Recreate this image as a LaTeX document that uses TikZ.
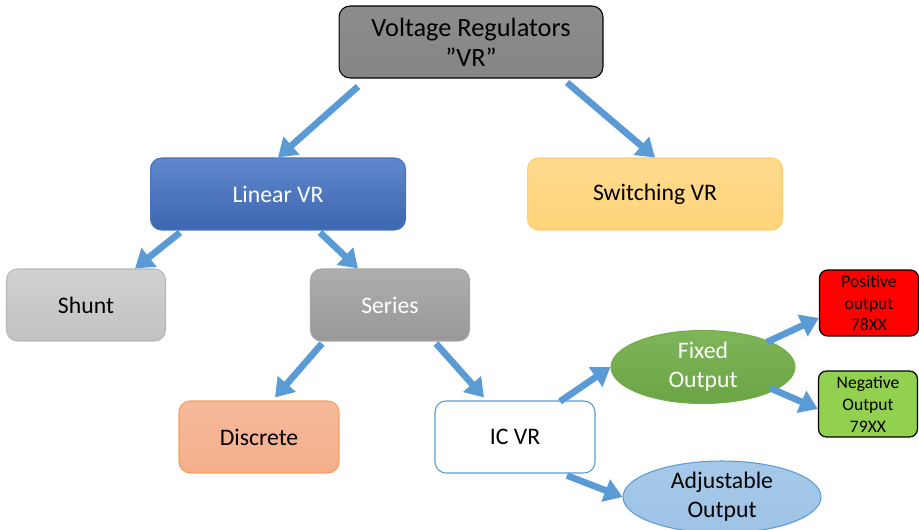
\documentclass[tikz,border=0pt]{standalone}
\usepackage{fontspec}
\setmainfont{Carlito}
\usepackage{tikz}
\usetikzlibrary{arrows.meta, shapes.geometric, calc}
\definecolor{flowcol}{HTML}{5B9BD5}
\definecolor{rootcol}{HTML}{7F7F7F}
\definecolor{linearcol}{HTML}{4472C4}
\definecolor{switchcol}{HTML}{FFD47A}
\definecolor{shuntcol}{HTML}{CCCCCC}
\definecolor{seriescol}{HTML}{A5A5A5}
\definecolor{discretecol}{HTML}{F4AE8A}
\definecolor{fixedcol}{HTML}{70AD47}
\definecolor{adjustcol}{HTML}{9DC3E6}
\definecolor{negcol}{HTML}{92D050}

\begin{document}
\begin{tikzpicture}[x=0.02cm, y=-0.02cm,
  box/.style={
    draw, rounded corners=0.22cm, minimum width=3.2cm, minimum height=1.44cm,
    inner sep=0pt, align=center, line width=0.6pt,
    font=\fontsize{13.5}{16.5}\selectfont
  },
  oval/.style={
    ellipse, draw, inner sep=0pt, align=center, line width=0.6pt,
    font=\fontsize{13.5}{16.5}\selectfont
  },
  tag/.style={
    box, rounded corners=0.16cm, minimum width=1.98cm, minimum height=1.32cm,
    draw=black, line width=0.7pt, font=\fontsize{10}{12.5}\selectfont
  },
  flow/.style={-{Triangle[length=0.36cm, width=0.46cm]}, line width=3.8pt, flowcol}
]
\useasboundingbox (0,0) rectangle (919,530);

% ============ LEVEL 1 ============
\node[box, top color=rootcol!90, bottom color=rootcol!105!black, draw=black,
  minimum width=5.28cm, font=\fontsize{15}{17.2}\selectfont] (vr) at (471,42)
  {Voltage Regulators\\”VR”};

% ============ LEVEL 2 ============
\node[box, top color=linearcol!85, bottom color=linearcol!90!black, draw=linearcol,
  text=white, minimum width=5.1cm] (lin) at (278,194) {Linear VR};
\node[box, top color=switchcol!85, bottom color=switchcol, draw=switchcol!90!orange,
  minimum width=5.1cm] (sw) at (655,194) {Switching VR};

% ============ LEVEL 3 ============
\node[box, top color=shuntcol!90, bottom color=shuntcol!95!black, draw=seriescol!80,
  minimum width=3.18cm] (shunt) at (86,305) {Shunt};
\node[box, top color=seriescol!90, bottom color=seriescol!92!black, draw=seriescol,
  text=white, minimum width=3.18cm] (ser) at (390,305) {Series};

% ============ LEVEL 4 ============
\node[box, top color=discretecol!85, bottom color=discretecol, draw=discretecol!70!orange]
  (disc) at (259,437) {Discrete};
\node[box, fill=white, draw=flowcol] (ic) at (515,437) {IC VR};

% IC branches
\node[oval, top color=fixedcol!90, bottom color=fixedcol!95!black, draw=fixedcol,
  text=white, minimum width=3.68cm, minimum height=1.46cm] (fix) at (703,367)
  {Fixed\\Output};
\node[oval, top color=adjustcol!90, bottom color=adjustcol, draw=flowcol,
  minimum width=3.96cm, minimum height=1.44cm] (adj) at (722,497)
  {Adjustable\\Output};

\node[tag, fill=red] (pos) at (869,303) {Positive\\output\\78XX};
\node[tag, fill=negcol] (neg) at (868,404) {Negative\\Output\\79XX};

% ============ CONNECTIONS ============
\draw[flow] ($(vr.south)+(-113,8)$) -- (lin.north);
\draw[flow] ($(vr.south)+(96,4)$) -- (sw.north);
\draw[flow] ($(lin.south)+(-98,2)$) -- ($(shunt.north)+(49,0)$);
\draw[flow] ($(lin.south)+(42,2)$) -- ($(ser.north)+(-32,0)$);
\draw[flow] ($(ser.south)+(-68,2)$) -- ($(disc.north)+(16,-3)$);
\draw[flow] ($(ser.south)+(46,2)$) -- ($(ic.north)+(-31,-3)$);
\draw[flow] ($(ic.north)+(45,1)$) -- (fix.west);
\draw[flow] ($(ic.south)+(52,2)$) -- (adj.west);
\draw[flow] ($(fix)+(64,-25)$) -- ($(pos.west)+(0,15)$);
\draw[flow] ($(fix)+(67,21)$) -- ($(neg.west)+(0,5)$);

\end{tikzpicture}
\end{document}
